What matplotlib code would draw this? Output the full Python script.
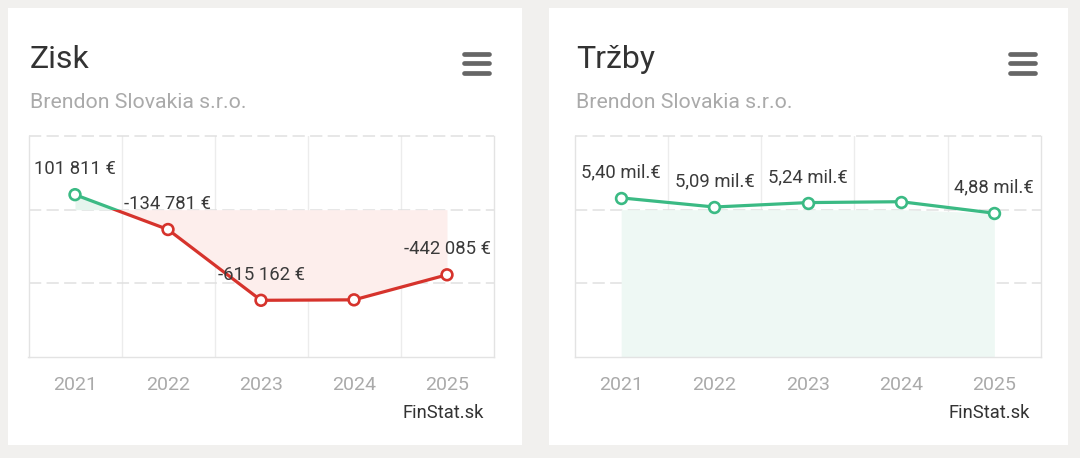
import numpy as np
import matplotlib
matplotlib.use("Agg")
import matplotlib.pyplot as plt
from matplotlib.patches import Rectangle
from matplotlib.lines import Line2D

# data
years = ["2021", "2022", "2023", "2024", "2025"]
zisk = np.array([101811, -134781, -615162, -612000, -442085])
zisk_labels = ["101 811 €", "-134 781 €", "-615 162 €", "", "-442 085 €"]
trzby = np.array([5.40e6, 5.09e6, 5.24e6, 5.27e6, 4.88e6])
trzby_labels = ["5,40 mil.€", "5,09 mil.€", "5,24 mil.€", "", "4,88 mil.€"]
zisk_ticks = [-1e6, -5e5, 0, 5e5]
trzby_ticks = [0, 2.5e6, 5e6, 7.5e6]

GREEN = "#3bba84"
RED = "#d6332c"
W, H = 1080, 458

plt.rcParams["font.family"] = ["Roboto", "DejaVu Sans"]

fig = plt.figure(figsize=(W / 100, H / 100), dpi=100)
fig.patch.set_facecolor("#f1f0ee")


def fx(x):
    return x / W


def fy(y):
    return 1 - y / H


# cards
for left, right in [(8, 522), (549, 1068)]:
    fig.patches.append(Rectangle((fx(left), fy(445)), fx(right - left), (445 - 8) / H,
                                 transform=fig.transFigure, facecolor="white",
                                 edgecolor="none", zorder=-5))


def card_header(x0, x_icon, title):
    fig.text(fx(x0), fy(59), title, fontsize=23, color="#333333", va="center", ha="left")
    fig.text(fx(x0), fy(103), "Brendon Slovakia s.r.o.", fontsize=15.3, color="#aaaaaa",
             va="center", ha="left")
    for yy in (53.5, 63, 72.5):
        fig.lines.append(Line2D([fx(x_icon), fx(x_icon + 25)], [fy(yy), fy(yy)],
                                transform=fig.transFigure, color="#666666", lw=3.4,
                                solid_capstyle="round"))


def base_axes(x0, x1, ticks):
    ax = fig.add_axes([fx(x0), fy(357), fx(x1 - x0), (357 - 136) / H])
    ax.set_facecolor("none")
    x = np.arange(len(years))
    ax.set_xlim(-0.5, len(years) - 0.5)
    ax.set_ylim(ticks[0], ticks[-1])
    ax.set_xticks(x)
    ax.set_xticklabels(years, fontsize=14, color="#aaaaaa")
    ax.tick_params(axis="x", length=0, pad=13.5)
    ax.set_yticks([])
    for s in ("left", "right", "bottom"):
        ax.spines[s].set_color("#e3e3e3")
        ax.spines[s].set_linewidth(1)
    ax.spines["top"].set_visible(False)
    for b in np.arange(0.5, len(years) - 0.5):
        ax.axvline(b, color="#ececec", lw=1, zorder=0)
    for t in ticks[1:]:
        ax.axhline(t, color="#e0e0e0", lw=1.1, ls=(0, (8, 3.5)), zorder=0, clip_on=False)
    return ax, x


def add_labels(ax, x, vals, labels):
    for xi, v, lab in zip(x, vals, labels):
        if lab:
            ax.annotate(lab, (xi, v), xytext=(0, 18.5), textcoords="offset points",
                        ha="center", va="center", fontsize=13.3, color="#3a3a3a", zorder=5)


# Zisk
card_header(30, 464, "Zisk")
ax1, x = base_axes(28.5, 493.5, zisk_ticks)
ax1.fill_between(x, zisk, 0, where=zisk >= 0, interpolate=True, color="#e6f5ee", lw=0, zorder=1)
ax1.fill_between(x, zisk, 0, where=zisk <= 0, interpolate=True, color="#fdeeec", lw=0, zorder=1)
lg, = ax1.plot(x, zisk, color=GREEN, lw=2.3, zorder=3)
lg.set_clip_path(Rectangle((-1, 0), 10, 1e9, transform=ax1.transData))
lr, = ax1.plot(x, zisk, color=RED, lw=2.3, zorder=3)
lr.set_clip_path(Rectangle((-1, -1e9), 10, 1e9, transform=ax1.transData))
ax1.scatter(x, zisk, s=60, facecolor="white",
            edgecolors=[GREEN if v >= 0 else RED for v in zisk], linewidths=1.9, zorder=4)
add_labels(ax1, x, zisk, zisk_labels)
fig.text(fx(484), fy(413), "FinStat.sk", fontsize=13.2, color="#333333", ha="right", va="center")

# Trzby
card_header(576, 1010, "Tržby")
ax2, x = base_axes(574.5, 1041, trzby_ticks)
ax2.fill_between(x, 0, np.minimum(trzby, trzby_ticks[2]), color="#eef8f4", lw=0, zorder=1)
ax2.plot(x, trzby, color=GREEN, lw=2.3, zorder=3)
ax2.scatter(x, trzby, s=60, facecolor="white", edgecolors=GREEN, linewidths=1.9, zorder=4)
add_labels(ax2, x, trzby, trzby_labels)
fig.text(fx(1030), fy(413), "FinStat.sk", fontsize=13.2, color="#333333", ha="right", va="center")

fig.savefig("out.png", dpi=100, facecolor=fig.get_facecolor())
